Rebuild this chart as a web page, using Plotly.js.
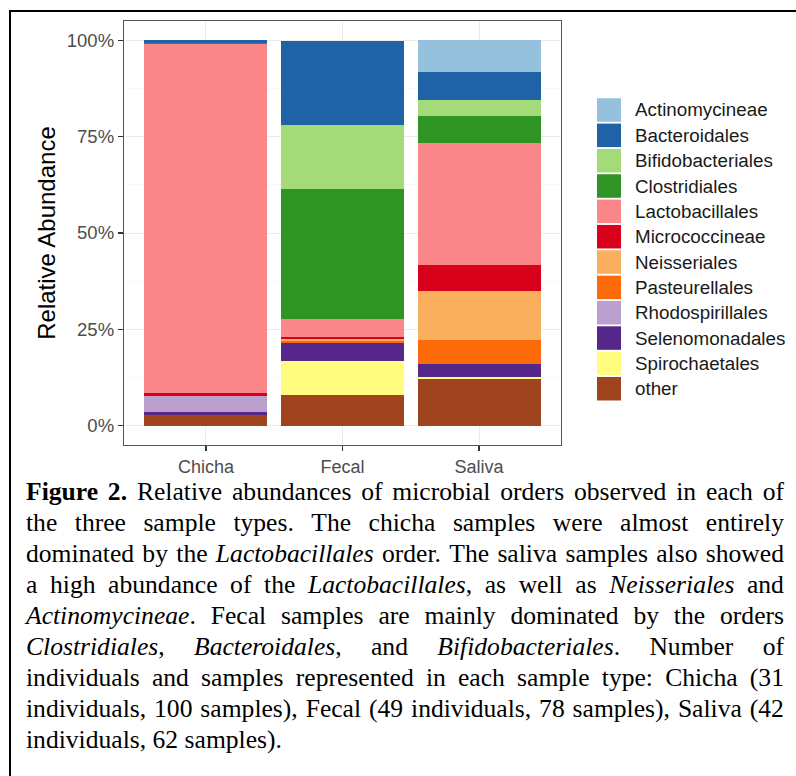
<!DOCTYPE html>
<html>
<head>
<meta charset="utf-8">
<script src="https://cdn.plot.ly/plotly-3.0.1.min.js"></script>
<style>
  html, body { margin: 0; padding: 0; background: #fff; }
  #wrap { position: relative; width: 796px; height: 776px; overflow: hidden; }
  #frame { position: absolute; left: 9px; top: 10px; width: 900px; height: 900px;
           border-left: 2px solid #000; border-top: 2px solid #000; }
  #plot { position: absolute; left: 0; top: 0; width: 796px; height: 776px; }
  #caption { position: absolute; left: 26px; top: 476px; width: 758px;
             font-family: "Liberation Serif", "Times New Roman", serif; font-size: 25.6px;
             line-height: 31px; color: #000; }
  .ln { display: flex; justify-content: space-between; white-space: nowrap; }
  .last { display: block; white-space: nowrap; }
</style>
</head>
<body>
<div id="wrap">
  <div id="frame"></div>
  <div id="plot"></div>
  <div id="caption"></div>
</div>
<script>
// ---- data ----
const sampleTypes = ["Chicha", "Fecal", "Saliva"];
const orders = ["Actinomycineae", "Bacteroidales", "Bifidobacteriales", "Clostridiales",
  "Lactobacillales", "Micrococcineae", "Neisseriales", "Pasteurellales",
  "Rhodospirillales", "Selenomonadales", "Spirochaetales", "other"];
const orderColors = ["#96C1DC", "#1F63A6", "#A5DA79", "#2E9423", "#FC878A", "#D8001B",
  "#FAAF5E", "#FD6A0A", "#BB9FCF", "#55278B", "#FFFC80", "#A0441F"];
// relative abundance (%) for Chicha, Fecal, Saliva
const Actinomycineae    = [0.0,  0.0,  8.2];
const Bacteroidales     = [0.6, 21.9,  7.2];
const Bifidobacteriales = [0.0, 16.6,  4.3];
const Clostridiales     = [0.3, 33.8,  6.9];
const Lactobacillales   = [90.6, 4.5, 31.7];
const Micrococcineae    = [0.7,  0.6,  6.8];
const Neisseriales      = [0.0,  0.4, 12.7];
const Pasteurellales    = [0.0,  0.6,  6.1];
const Rhodospirillales  = [4.3,  0.0,  0.0];
const Selenomonadales   = [0.6,  4.6,  3.4];
const Spirochaetales    = [0.0,  8.8,  0.7];
const other             = [2.9,  8.1, 12.0];
const yTickVals = [0, 25, 50, 75, 100];
const yTickText = ["0%", "25%", "50%", "75%", "100%"];

const values = [Actinomycineae, Bacteroidales, Bifidobacteriales, Clostridiales,
  Lactobacillales, Micrococcineae, Neisseriales, Pasteurellales, Rhodospirillales,
  Selenomonadales, Spirochaetales, other];

// ---- traces (first trace at bottom of stack) ----
const traces = [];
for (let i = orders.length - 1; i >= 0; i--) {
  traces.push({
    type: "bar", name: orders[i], x: sampleTypes, y: values[i], width: 0.9,
    marker: { color: orderColors[i], line: { width: 0 } },
    showlegend: false, hoverinfo: "name+y"
  });
}

// ---- geometry (pixels) ----
const W = 796, H = 776;
const mL = 124, mR = 235, mT = 21, mB = 331;
const pw = W - mL - mR, ph = H - mT - mB;
const px2x = p => (p - mL) / pw;
const px2y = p => (H - mB - p) / ph;

// custom legend with large swatches
const shapes = [], annotations = [];
const legTop = 110, legStep = 25.34, sw = 24, sh = 23.5;
orders.forEach((o, i) => {
  const cy = legTop + i * legStep;
  shapes.push({ type: "rect", xref: "paper", yref: "paper",
    x0: px2x(597), x1: px2x(597 + sw), y0: px2y(cy - sh / 2), y1: px2y(cy + sh / 2),
    fillcolor: orderColors[i], line: { width: 0 } });
  annotations.push({ xref: "paper", yref: "paper", x: px2x(633), y: px2y(cy),
    xanchor: "left", yanchor: "middle", text: o, showarrow: false,
    font: { family: "Liberation Sans, Arial, sans-serif", size: 18.8, color: "#1A1A1A" } });
});

const layout = {
  width: W, height: H,
  margin: { l: mL, r: mR, t: mT, b: mB, pad: 0 },
  paper_bgcolor: "rgba(0,0,0,0)", plot_bgcolor: "#fff",
  barmode: "stack", bargap: 0.1,
  font: { family: "Liberation Sans, Arial, sans-serif", size: 18, color: "#4D4D4D" },
  xaxis: {
    range: [-0.6, 2.6], showgrid: true, gridcolor: "#EBEBEB", gridwidth: 1,
    showline: true, mirror: true, linecolor: "#555", linewidth: 1.2,
    ticks: "outside", ticklen: 5, tickcolor: "#333", tickwidth: 1.2,
    tickfont: { size: 18, color: "#4D4D4D" }, zeroline: false, fixedrange: true
  },
  yaxis: {
    range: [-5, 105], tickvals: yTickVals, ticktext: yTickText,
    showgrid: true, gridcolor: "#EBEBEB", gridwidth: 1,
    minor: { tickvals: [12.5, 37.5, 62.5, 87.5], showgrid: true, gridcolor: "#F3F3F3", gridwidth: 0.6, ticks: "" },
    showline: true, mirror: true, linecolor: "#555", linewidth: 1.2,
    ticks: "outside", ticklen: 5, tickcolor: "#333", tickwidth: 1.2,
    tickfont: { size: 18.5, color: "#4D4D4D" }, zeroline: false,
    title: { text: "Relative Abundance", font: { size: 24, color: "#000" }, standoff: 4 },
    fixedrange: true
  },
  shapes: shapes, annotations: annotations
};

Plotly.newPlot("plot", traces, layout, { displayModeBar: false, staticPlot: true });

// ---- caption ----
const captionLines = [
  "!Figure !2. Relative abundances of microbial orders observed in each of",
  "the three sample types. The chicha samples were almost entirely",
  "dominated by the _Lactobacillales_ order. The saliva samples also showed",
  "a high abundance of the _Lactobacillales_, as well as _Neisseriales_ and",
  "_Actinomycineae_. Fecal samples are mainly dominated by the orders",
  "_Clostridiales_, _Bacteroidales_, and _Bifidobacteriales_. Number of",
  "individuals and samples represented in each sample type: Chicha (31",
  "individuals, 100 samples), Fecal (49 individuals, 78 samples), Saliva (42",
  "individuals, 62 samples)."
];
const cap = document.getElementById("caption");
captionLines.forEach((line, li) => {
  const div = document.createElement("div");
  const isLast = li === captionLines.length - 1;
  div.className = isLast ? "last" : "ln";
  const words = line.split(" ");
  words.forEach((w, wi) => {
    const span = document.createElement("span");
    let m;
    if (w.startsWith("!")) {
      const b = document.createElement("b"); b.textContent = w.slice(1); span.appendChild(b);
    } else if ((m = w.match(/^_(.+)_(.*)$/))) {
      const it = document.createElement("i"); it.textContent = m[1]; span.appendChild(it);
      if (m[2]) span.appendChild(document.createTextNode(m[2]));
    } else {
      span.textContent = w;
    }
    div.appendChild(span);
    if (isLast && wi < words.length - 1) div.appendChild(document.createTextNode(" "));
  });
  cap.appendChild(div);
});
</script>
</body>
</html>
